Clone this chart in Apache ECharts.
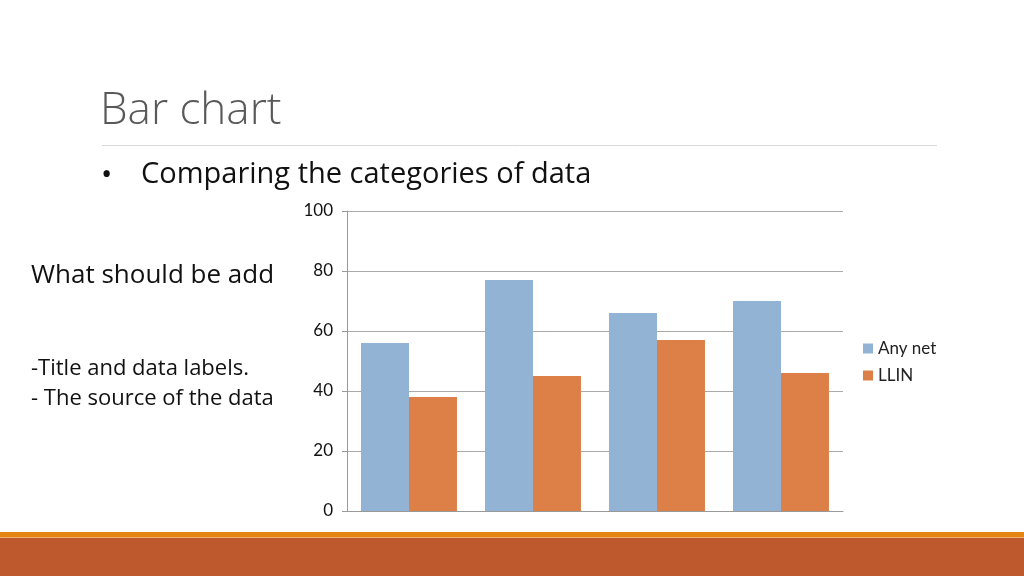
<!DOCTYPE html>
<html>
<head>
<meta charset="utf-8">
<script src="https://cdn.jsdelivr.net/npm/echarts@6/dist/echarts.min.js"></script>
<style>
  html, body { margin: 0; padding: 0; background: #fff; }
  #chart { width: 1024px; height: 576px; }
</style>
</head>
<body>
<div id="chart"></div>
<script>
var categories = ['1', '2', '3', '4'];
var anyNet = [56, 77, 66, 70];
var llin = [38, 45, 57, 46];
var yTicks = [0, 20, 40, 60, 80, 100];

var myChart = echarts.init(document.getElementById('chart'));

// slide text, placed by its vertical middle
function slideText(x, y, text, font, fill) {
    return {
        type: 'text', x: x, y: y,
        style: { text: text, font: font, fill: fill || '#111', textAlign: 'left', textVerticalAlign: 'middle' }
    };
}

var option = {
    animation: false,
    backgroundColor: '#fff',
    grid: { left: 347, right: 181, top: 211, bottom: 65 },
    legend: {
        orient: 'vertical',
        left: 858,
        top: 335,
        itemWidth: 10,
        itemHeight: 10,
        itemGap: 10,
        icon: 'rect',
        textStyle: { fontFamily: 'Lato', fontSize: 17, color: '#222' },
        data: ['Any net', 'LLIN']
    },
    xAxis: {
        type: 'category',
        data: categories,
        axisLine: { show: true, lineStyle: { color: '#999' } },
        axisTick: { show: false },
        axisLabel: { show: false }
    },
    yAxis: {
        type: 'value',
        min: yTicks[0],
        max: yTicks[yTicks.length - 1],
        interval: 20,
        axisLine: { show: true, lineStyle: { color: '#999' } },
        axisTick: { show: true, length: 5, lineStyle: { color: '#999' } },
        axisLabel: { fontFamily: 'Lato', fontSize: 17, color: '#111', margin: 14 },
        splitLine: { lineStyle: { color: '#aaa' } }
    },
    series: [
        {
            name: 'Any net',
            type: 'bar',
            data: anyNet,
            barGap: 0,
            barCategoryGap: '22.6%',
            itemStyle: { color: '#93B3D4' }
        },
        {
            name: 'LLIN',
            type: 'bar',
            data: llin,
            barGap: 0,
            barCategoryGap: '22.6%',
            itemStyle: { color: '#DC8048' }
        }
    ],
    graphic: [
        slideText(100, 111, 'Bar chart', '300 44px "Open Sans"', '#595959'),
        { type: 'line', shape: { x1: 102, y1: 145.5, x2: 937, y2: 145.5 }, style: { stroke: '#d9d9d9', lineWidth: 1 } },
        slideText(101, 175, '•', '30px "Open Sans"'),
        slideText(141, 175, 'Comparing the categories of data', '29px "Open Sans"'),
        slideText(31, 276, 'What should be add', '26px "Open Sans"'),
        slideText(31, 369, '-Title and data labels.', '22px "Open Sans"'),
        slideText(31, 399, '- The source of the data', '22px "Open Sans"'),
        { type: 'rect', shape: { x: 0, y: 532, width: 1024, height: 5 }, style: { fill: '#E48413' } },
        { type: 'rect', shape: { x: 0, y: 537, width: 1024, height: 1 }, style: { fill: '#F0B070' } },
        { type: 'rect', shape: { x: 0, y: 538, width: 1024, height: 38 }, style: { fill: '#BD592D' } }
    ]
};

myChart.setOption(option, true);
</script>
</body>
</html>
